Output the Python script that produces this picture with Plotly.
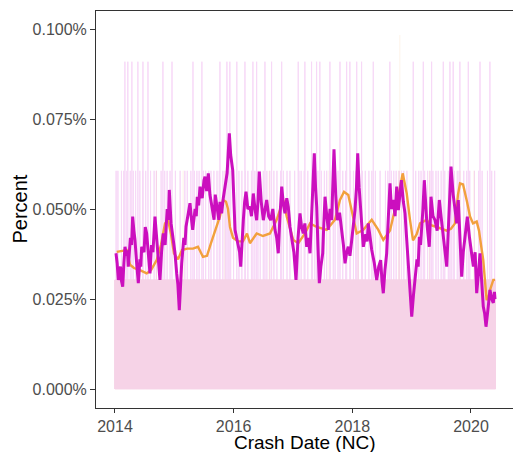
import numpy as np
import pandas as pd
import plotly.graph_objects as go

# Rolling share of crashes (%) - magenta series (decimal year, percent)
mag_year = [2014.017, 2014.036, 2014.056, 2014.075, 2014.093, 2014.110, 2014.130, 2014.150,
            2014.169, 2014.195, 2014.210, 2014.224, 2014.260, 2014.280, 2014.298, 2014.318,
            2014.337, 2014.365, 2014.393, 2014.420, 2014.435, 2014.450, 2014.490, 2014.510,
            2014.534, 2014.560, 2014.590, 2014.615, 2014.640, 2014.674, 2014.700, 2014.725,
            2014.758, 2014.785, 2014.814, 2014.845, 2014.880, 2014.900, 2014.915, 2014.945,
            2014.983, 2015.010, 2015.040, 2015.060, 2015.084, 2015.105, 2015.124, 2015.160,
            2015.180, 2015.197, 2015.230, 2015.264, 2015.290, 2015.310, 2015.350, 2015.370,
            2015.387, 2015.410, 2015.433, 2015.470, 2015.500, 2015.517, 2015.545, 2015.573,
            2015.600, 2015.630, 2015.670, 2015.690, 2015.714, 2015.750, 2015.770, 2015.798,
            2015.825, 2015.854, 2015.890, 2015.927, 2015.950, 2015.984, 2016.005, 2016.023,
            2016.050, 2016.078, 2016.100, 2016.119, 2016.140, 2016.163, 2016.185, 2016.208,
            2016.240, 2016.275, 2016.300, 2016.331, 2016.360, 2016.388, 2016.410, 2016.432,
            2016.465, 2016.500, 2016.530, 2016.557, 2016.590, 2016.624, 2016.660, 2016.697,
            2016.725, 2016.752, 2016.780, 2016.810, 2016.840, 2016.865, 2016.895, 2016.921,
            2016.950, 2016.978, 2017.015, 2017.051, 2017.085, 2017.118, 2017.145, 2017.174,
            2017.200, 2017.231, 2017.260, 2017.287, 2017.320, 2017.359, 2017.380, 2017.400,
            2017.420, 2017.444, 2017.470, 2017.501, 2017.520, 2017.540, 2017.570, 2017.595,
            2017.625, 2017.652, 2017.670, 2017.691, 2017.720, 2017.747, 2017.785, 2017.821,
            2017.850, 2017.877, 2017.905, 2017.932, 2017.960, 2017.990, 2018.020, 2018.045,
            2018.070, 2018.091, 2018.115, 2018.141, 2018.165, 2018.185, 2018.225, 2018.250,
            2018.269, 2018.300, 2018.327, 2018.370, 2018.411, 2018.445, 2018.478, 2018.500,
            2018.522, 2018.550, 2018.579, 2018.605, 2018.635, 2018.660, 2018.691, 2018.720,
            2018.748, 2018.776, 2018.800, 2018.827, 2018.860, 2018.888, 2018.915, 2018.944,
            2018.975, 2019.001, 2019.030, 2019.056, 2019.090, 2019.110, 2019.129, 2019.150,
            2019.169, 2019.190, 2019.213, 2019.235, 2019.253, 2019.275, 2019.297, 2019.312,
            2019.326, 2019.360, 2019.393, 2019.430, 2019.466, 2019.495, 2019.523, 2019.555,
            2019.591, 2019.625, 2019.663, 2019.700, 2019.731, 2019.760, 2019.786, 2019.815,
            2019.843, 2019.870, 2019.900, 2019.938, 2019.975, 2020.012, 2020.040, 2020.070,
            2020.096, 2020.125, 2020.152, 2020.180, 2020.207, 2020.230, 2020.253, 2020.285,
            2020.320, 2020.350, 2020.376, 2020.395, 2020.405]
mag_pct = [0.0377, 0.0350, 0.0303, 0.0330, 0.0340, 0.0300, 0.0284, 0.0350,
           0.0395, 0.0370, 0.0385, 0.0340, 0.0420, 0.0400, 0.0479, 0.0440,
           0.0414, 0.0350, 0.0294, 0.0360, 0.0340, 0.0395, 0.0380, 0.0450,
           0.0432, 0.0380, 0.0321, 0.0400, 0.0380, 0.0479, 0.0420, 0.0350,
           0.0303, 0.0380, 0.0432, 0.0400, 0.0500, 0.0470, 0.0553, 0.0460,
           0.0414, 0.0380, 0.0321, 0.0290, 0.0219, 0.0300, 0.0349, 0.0420,
           0.0400, 0.0451, 0.0480, 0.0516, 0.0470, 0.0442, 0.0500, 0.0480,
           0.0534, 0.0510, 0.0562, 0.0530, 0.0580, 0.0590, 0.0550, 0.0599,
           0.0540, 0.0506, 0.0470, 0.0540, 0.0516, 0.0470, 0.0520, 0.0488,
           0.0530, 0.0562, 0.0600, 0.0710, 0.0650, 0.0608, 0.0500, 0.0442,
           0.0420, 0.0395, 0.0380, 0.0340, 0.0420, 0.0469, 0.0520, 0.0548,
           0.0500, 0.0506, 0.0480, 0.0543, 0.0500, 0.0469, 0.0520, 0.0604,
           0.0520, 0.0469, 0.0500, 0.0525, 0.0480, 0.0469, 0.0500, 0.0442,
           0.0420, 0.0377, 0.0480, 0.0562, 0.0510, 0.0488, 0.0530, 0.0506,
           0.0450, 0.0414, 0.0380, 0.0303, 0.0420, 0.0488, 0.0450, 0.0432,
           0.0460, 0.0395, 0.0420, 0.0377, 0.0500, 0.0655, 0.0560, 0.0506,
           0.0400, 0.0294, 0.0340, 0.0377, 0.0460, 0.0534, 0.0480, 0.0442,
           0.0500, 0.0469, 0.0560, 0.0666, 0.0540, 0.0469, 0.0490, 0.0442,
           0.0400, 0.0349, 0.0380, 0.0395, 0.0370, 0.0414, 0.0460, 0.0497,
           0.0560, 0.0655, 0.0560, 0.0506, 0.0440, 0.0395, 0.0430, 0.0410,
           0.0460, 0.0420, 0.0386, 0.0350, 0.0303, 0.0340, 0.0358, 0.0300,
           0.0266, 0.0330, 0.0377, 0.0470, 0.0571, 0.0500, 0.0525, 0.0480,
           0.0562, 0.0497, 0.0540, 0.0580, 0.0520, 0.0488, 0.0420, 0.0350,
           0.0260, 0.0201, 0.0260, 0.0312, 0.0360, 0.0340, 0.0423, 0.0400,
           0.0469, 0.0500, 0.0580, 0.0500, 0.0469, 0.0430, 0.0395, 0.0460,
           0.0534, 0.0480, 0.0469, 0.0440, 0.0525, 0.0480, 0.0442, 0.0400,
           0.0340, 0.0470, 0.0618, 0.0540, 0.0488, 0.0460, 0.0525, 0.0420,
           0.0312, 0.0380, 0.0420, 0.0479, 0.0420, 0.0377, 0.0340, 0.0380,
           0.0266, 0.0320, 0.0377, 0.0300, 0.0229, 0.0210, 0.0173, 0.0220,
           0.0275, 0.0250, 0.0239, 0.0270, 0.0250]

# Smoother rolling share (%) - orange series
org_year = [2014.029, 2014.118, 2014.197, 2014.253, 2014.320, 2014.421, 2014.534, 2014.607,
            2014.703, 2014.775, 2014.843, 2014.893, 2014.944, 2014.994, 2015.062, 2015.129,
            2015.214, 2015.315, 2015.399, 2015.483, 2015.551, 2015.618, 2015.714, 2015.770,
            2015.820, 2015.871, 2015.905, 2015.938, 2015.989, 2016.073, 2016.157, 2016.225,
            2016.275, 2016.388, 2016.494, 2016.612, 2016.725, 2016.837, 2016.894, 2017.005,
            2017.090, 2017.202, 2017.287, 2017.400, 2017.568, 2017.708, 2017.792, 2017.860,
            2017.932, 2017.990, 2018.074, 2018.185, 2018.327, 2018.438, 2018.522, 2018.635,
            2018.691, 2018.748, 2018.804, 2018.849, 2018.888, 2018.917, 2018.972, 2019.023,
            2019.085, 2019.141, 2019.254, 2019.326, 2019.422, 2019.495, 2019.591, 2019.663,
            2019.731, 2019.781, 2019.815, 2019.866, 2019.899, 2019.933, 2019.984, 2020.034,
            2020.096, 2020.135, 2020.169, 2020.207, 2020.236, 2020.264, 2020.294, 2020.320,
            2020.376, 2020.405]
org_pct = [0.0381, 0.0384, 0.0386, 0.0345, 0.0336, 0.0330, 0.0321, 0.0330,
           0.0358, 0.0400, 0.0460, 0.0470, 0.0430, 0.0377, 0.0360, 0.0386,
           0.0390, 0.0390, 0.0395, 0.0367, 0.0370, 0.0405, 0.0450, 0.0480,
           0.0525, 0.0520, 0.0500, 0.0450, 0.0420, 0.0410, 0.0410, 0.0432,
           0.0405, 0.0432, 0.0425, 0.0432, 0.0470, 0.0525, 0.0479, 0.0414,
           0.0405, 0.0432, 0.0460, 0.0450, 0.0442, 0.0470, 0.0525, 0.0548,
           0.0539, 0.0497, 0.0432, 0.0442, 0.0470, 0.0442, 0.0414, 0.0440,
           0.0480, 0.0516, 0.0560, 0.0599, 0.0570, 0.0543, 0.0470, 0.0413,
           0.0430, 0.0460, 0.0470, 0.0455, 0.0450, 0.0445, 0.0440, 0.0445,
           0.0460, 0.0540, 0.0571, 0.0568, 0.0548, 0.0520, 0.0479, 0.0460,
           0.0465, 0.0440, 0.0400, 0.0358, 0.0300, 0.0247, 0.0255, 0.0275,
           0.0303, 0.0303]

# Daily counts: one crash on every day unless listed below
first_day = "2014-01-01"
last_day = "2020-05-31"
daily_total = 3300   # daily denominator
mag_two_days = [2014.02, 2014.05, 2014.11, 2014.15, 2014.20, 2014.26, 2014.31, 2014.35, 2014.42,
                2014.47, 2014.52, 2014.60, 2014.66, 2014.70, 2014.78, 2014.84, 2014.88, 2014.93,
                2015.02, 2015.10, 2015.18, 2015.22, 2015.28, 2015.34, 2015.38, 2015.42, 2015.49,
                2015.53, 2015.58, 2015.62, 2015.67, 2015.72, 2015.76, 2015.82, 2015.86, 2015.91,
                2015.95, 2016.00, 2016.09, 2016.14, 2016.20, 2016.24, 2016.30, 2016.36, 2016.41,
                2016.45, 2016.50, 2016.56, 2016.61, 2016.68, 2016.73, 2016.79, 2016.84, 2016.90,
                2016.95, 2017.03, 2017.10, 2017.14, 2017.19, 2017.25, 2017.33, 2017.37, 2017.42,
                2017.48, 2017.53, 2017.57, 2017.63, 2017.68, 2017.71, 2017.76, 2017.84, 2017.89,
                2017.97, 2018.02, 2018.06, 2018.10, 2018.17, 2018.22, 2018.28, 2018.33, 2018.39,
                2018.47, 2018.56, 2018.60, 2018.66, 2018.70, 2018.74, 2018.79, 2018.83, 2018.87,
                2018.92, 2019.07, 2019.12, 2019.16, 2019.22, 2019.27, 2019.31, 2019.36, 2019.41,
                2019.45, 2019.50, 2019.56, 2019.62, 2019.67, 2019.72, 2019.77, 2019.80, 2019.88,
                2019.93, 2019.98, 2020.06, 2020.13, 2020.19, 2020.28, 2020.35, 2020.40]
mag_three_days = [2014.169, 2014.219, 2014.287, 2014.388, 2014.472, 2014.556, 2014.809, 2014.961,
                  2015.315, 2015.466, 2015.770, 2015.888, 2015.938, 2016.056, 2016.191, 2016.326,
                  2016.388, 2016.528, 2016.641, 2016.810, 2017.090, 2017.202, 2017.315, 2017.400,
                  2017.455, 2017.624, 2017.793, 2017.905, 2017.961, 2018.074, 2018.158, 2018.354,
                  2018.635, 2019.028, 2019.197, 2019.338, 2019.534, 2019.646, 2019.702, 2019.815,
                  2019.955, 2020.152, 2020.320]
org_two_days = [2014.70, 2015.15, 2015.85, 2016.60, 2017.60, 2018.10, 2018.78, 2019.30, 2019.82, 2020.05]
org_peak_day = 2018.80
org_peak_pct = 0.0983

MAGENTA = "#CB0FBE"
ORANGE = "#F2A03D"


def to_date(years):
    yrs = np.asarray(years, dtype=float)
    return pd.Timestamp("2014-01-01") + pd.to_timedelta((yrs - 2014.0) * 365.25, unit="D")


days = pd.date_range(first_day, last_day, freq="D")


def daily_pct(two_days, three_days=()):
    counts = pd.Series(1.0, index=days)
    for lvl, lst in ((2, two_days), (3, three_days)):
        if len(lst):
            for d in to_date(lst).normalize():
                if d in counts.index:
                    counts[d] = lvl
    return counts / daily_total * 100


def spikes(pct):
    # one continuous path: up to the day's value and back down, day after day
    xs, ys = [], []
    for d, v in pct.items():
        xs += [d, d, d]
        ys += [0, v, 0]
    return xs, ys


mag_daily = daily_pct(mag_two_days, mag_three_days)
org_daily = daily_pct(org_two_days)
org_daily[to_date([org_peak_day]).normalize()[0]] = org_peak_pct

fig = go.Figure()

mx, my = spikes(mag_daily)
ox, oy = spikes(org_daily)

# daily spikes: solid strokes, faded as a whole layer so overlaps don't build up
fig.add_trace(go.Scatter(x=mx, y=my, mode="lines", hoverinfo="skip", opacity=0.15,
                         line=dict(color="#CD00CD", width=1, simplify=False)))
fig.add_trace(go.Scatter(x=ox, y=oy, mode="lines", hoverinfo="skip", opacity=0.08,
                         line=dict(color="#F5A040", width=1, simplify=False)))

fig.add_trace(go.Scatter(x=to_date(org_year), y=org_pct, mode="lines",
                         line=dict(color=ORANGE, width=2.4)))
fig.add_trace(go.Scatter(x=to_date(mag_year), y=mag_pct, mode="lines",
                         line=dict(color=MAGENTA, width=3)))

x_lo, x_hi = to_date([2013.680, 2020.708])

fig.update_layout(
    width=513, height=452,
    margin=dict(l=96, r=0, t=11, b=44),
    paper_bgcolor="white", plot_bgcolor="white",
    showlegend=False,
    font=dict(family="Liberation Sans, Arial, sans-serif"),
    annotations=[
        dict(text="Crash Date (NC)", xref="paper", yref="paper", x=0.5, y=0,
             xanchor="center", yanchor="middle", yshift=-34, showarrow=False,
             font=dict(size=19, color="black")),
        dict(text="Percent", xref="paper", yref="paper", x=0, y=0.5,
             xanchor="center", yanchor="middle", xshift=-77, textangle=-90,
             showarrow=False, font=dict(size=20, color="black")),
    ],
)
fig.update_xaxes(
    type="date", range=[x_lo, x_hi], automargin=False,
    tickvals=to_date([2014, 2016, 2018, 2020]), ticktext=["2014", "2016", "2018", "2020"],
    ticks="outside", ticklen=4, tickwidth=1, tickcolor="#333333",
    tickfont=dict(size=16, color="#4D4D4D"),
    showline=True, linecolor="#333333", linewidth=1, mirror=True,
    showgrid=False, zeroline=False,
)
fig.update_yaxes(
    range=[-0.005278, 0.105], automargin=False,
    tickvals=[0.0, 0.025, 0.05, 0.075, 0.1],
    ticktext=["0.000%", "0.025%", "0.050%", "0.075%", "0.100%"],
    ticks="outside", ticklen=5, tickwidth=1, tickcolor="#333333",
    tickfont=dict(size=16, color="#4D4D4D"),
    showline=True, linecolor="#333333", linewidth=1, mirror=False,
    showgrid=False, zeroline=False,
)

fig.write_html("out.html")
